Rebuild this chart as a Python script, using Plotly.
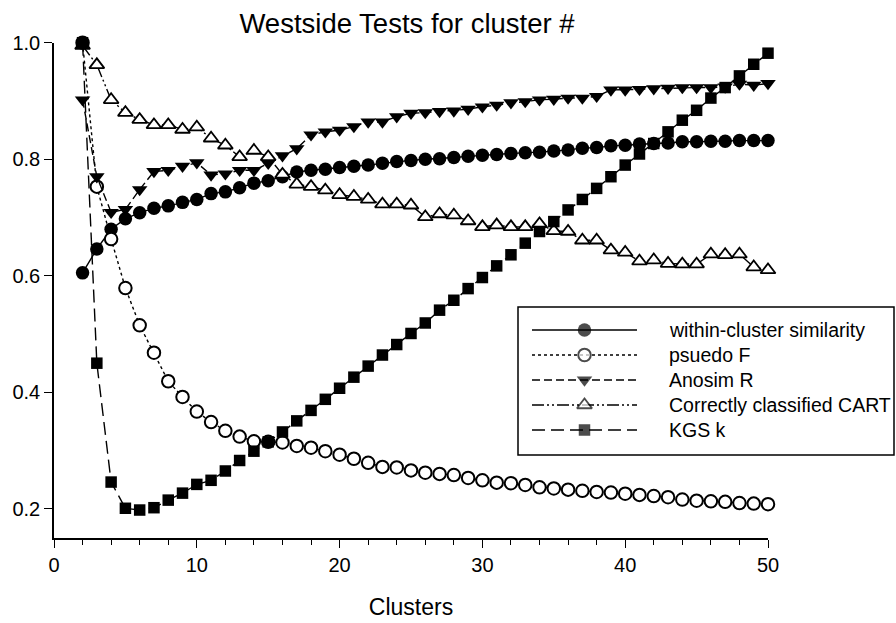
import plotly.graph_objects as go

# ---- data -------------------------------------------------------------
clusters = list(range(2, 51))

within_sim = [0.605, 0.646, 0.680, 0.698, 0.708, 0.716, 0.720, 0.726, 0.731, 0.741,
              0.744, 0.751, 0.759, 0.763, 0.770, 0.778, 0.781, 0.783, 0.786, 0.788,
              0.790, 0.793, 0.796, 0.798, 0.800, 0.801, 0.803, 0.805, 0.807, 0.808,
              0.810, 0.811, 0.812, 0.814, 0.816, 0.819, 0.820, 0.823, 0.824, 0.826,
              0.827, 0.828, 0.830, 0.830, 0.831, 0.831, 0.832, 0.832, 0.832]

pseudo_f = [1.000, 0.753, 0.663, 0.579, 0.515, 0.468, 0.419, 0.392, 0.367, 0.349,
            0.334, 0.324, 0.316, 0.315, 0.314, 0.308, 0.305, 0.299, 0.293, 0.286,
            0.279, 0.272, 0.271, 0.266, 0.262, 0.260, 0.258, 0.253, 0.249, 0.245,
            0.244, 0.241, 0.237, 0.235, 0.233, 0.231, 0.229, 0.228, 0.226, 0.224,
            0.222, 0.220, 0.216, 0.214, 0.213, 0.212, 0.210, 0.209, 0.208]

anosim_r = [0.902, 0.770, 0.709, 0.714, 0.748, 0.779, 0.781, 0.788, 0.794, 0.773,
            0.775, 0.781, 0.781, 0.793, 0.806, 0.818, 0.842, 0.847, 0.850, 0.856,
            0.864, 0.864, 0.873, 0.879, 0.880, 0.882, 0.883, 0.886, 0.890, 0.893,
            0.897, 0.899, 0.902, 0.903, 0.905, 0.905, 0.908, 0.919, 0.919, 0.920,
            0.921, 0.922, 0.923, 0.923, 0.923, 0.924, 0.929, 0.927, 0.930]

cart_correct = [0.995, 0.962, 0.902, 0.880, 0.868, 0.859, 0.859, 0.851, 0.855, 0.836,
                0.824, 0.804, 0.815, 0.804, 0.774, 0.757, 0.753, 0.747, 0.739, 0.736,
                0.731, 0.723, 0.723, 0.721, 0.701, 0.706, 0.704, 0.694, 0.684, 0.687,
                0.684, 0.684, 0.689, 0.677, 0.676, 0.661, 0.661, 0.644, 0.640, 0.625,
                0.627, 0.621, 0.620, 0.620, 0.637, 0.636, 0.637, 0.615, 0.610]

kgs_k = [1.000, 0.450, 0.246, 0.201, 0.198, 0.202, 0.215, 0.227, 0.242, 0.249,
         0.265, 0.283, 0.299, 0.315, 0.332, 0.351, 0.369, 0.388, 0.407, 0.426,
         0.445, 0.464, 0.482, 0.501, 0.519, 0.541, 0.558, 0.578, 0.597, 0.617,
         0.636, 0.656, 0.676, 0.693, 0.713, 0.731, 0.750, 0.770, 0.790, 0.809,
         0.827, 0.847, 0.867, 0.884, 0.905, 0.923, 0.943, 0.963, 0.982]

series_names = ["within-cluster similarity", "psuedo F", "Anosim R",
                "Correctly classified CART", "KGS k"]
series_values = [within_sim, pseudo_f, anosim_r, cart_correct, kgs_k]

x_ticks = [0, 10, 20, 30, 40, 50]
y_ticks = [0.2, 0.4, 0.6, 0.8, 1.0]

# ---- styling ----------------------------------------------------------
FONT = "Liberation Sans, Arial, sans-serif"
W, H = 896, 623
PL, PR, PT, PB = 54, 768, 42.7, 538          # plot frame (px)

styles = [
    dict(symbol="circle", size=13.5, fill="black", lw=0, dash="solid"),
    dict(symbol="circle", size=12.5, fill="white", lw=2, dash="dot"),
    dict(symbol="triangle-down", size=13.5, fill="black", lw=0, dash="8px,4px"),
    dict(symbol="triangle-up", size=13, fill="white", lw=1.8,
         dash="12px,3px,2px,3px,2px,3px"),
    dict(symbol="square", size=11.5, fill="black", lw=0, dash="13px,6px"),
]

fig = go.Figure()

for name, vals, st in zip(series_names, series_values, styles):
    fig.add_trace(go.Scatter(
        x=clusters, y=vals, name=name, mode="lines+markers",
        line=dict(color="black", width=1.4, dash=st["dash"]),
        marker=dict(symbol=st["symbol"], size=st["size"], color=st["fill"],
                    line=dict(color="black", width=st["lw"])),
        cliponaxis=False, showlegend=False,
        xaxis="x", yaxis="y",
    ))

# ---- boxed key drawn on a pixel-space overlay -------------------------
box = (518, 307, 894, 455)
row_y0, row_step = 330, 25
seg_x0, seg_x1, text_x = 532, 637, 667

fig.add_shape(type="rect", xref="x2", yref="y2",
              x0=box[0], y0=box[1], x1=box[2], y1=box[3],
              line=dict(color="black", width=1.5), fillcolor="rgba(0,0,0,0)")

for i, (name, st) in enumerate(zip(series_names, styles)):
    yy = row_y0 + i * row_step
    xm = (seg_x0 + seg_x1) / 2
    fig.add_trace(go.Scatter(
        x=[seg_x0, xm, seg_x1], y=[yy, yy, yy], mode="lines+markers",
        line=dict(color="black", width=1.4, dash=st["dash"]),
        marker=dict(symbol=st["symbol"], size=[0, st["size"], 0], color=st["fill"],
                    line=dict(color="black", width=[0, st["lw"], 0])),
        cliponaxis=False, showlegend=False, hoverinfo="skip",
        xaxis="x2", yaxis="y2",
    ))
    fig.add_annotation(x=text_x, y=yy, xref="x2", yref="y2", text=name,
                       showarrow=False, xanchor="left", yanchor="middle",
                       font=dict(family=FONT, size=19.5, color="black"))

axis_common = dict(showgrid=False, zeroline=False, showline=True,
                   linecolor="black", linewidth=1.5, ticks="outside",
                   tickcolor="black", tickwidth=1.3, ticklen=8,
                   tickfont=dict(family=FONT, size=20, color="black"),
                   automargin=False, fixedrange=True)

fig.update_layout(
    width=W, height=H,
    margin=dict(l=0, r=0, t=0, b=0),
    paper_bgcolor="white", plot_bgcolor="rgba(0,0,0,0)",
    showlegend=False,
    title=dict(text="Westside Tests for cluster #", x=407 / W, xanchor="center",
               y=1 - 23 / H, yanchor="middle",
               font=dict(family=FONT, size=27.5, color="black")),
    xaxis=dict(axis_common, domain=[PL / W, PR / W], range=[0, 50],
               tickvals=x_ticks, anchor="y",
               minor=dict(dtick=2, ticks="outside", ticklen=5, tickcolor="black",
                          tickwidth=1.2),
               title=dict(text="Clusters", standoff=24,
                          font=dict(family=FONT, size=23, color="black"))),
    yaxis=dict(axis_common, domain=[(H - PB) / H, (H - PT) / H], range=[0.15, 1.0],
               tickvals=y_ticks, tickformat=".1f", anchor="x"),
    xaxis2=dict(domain=[0, 1], range=[0, W], visible=False, fixedrange=True,
                anchor="y2"),
    yaxis2=dict(domain=[0, 1], range=[H, 0], visible=False, fixedrange=True,
                anchor="x2"),
)

fig.write_html("out.html")
